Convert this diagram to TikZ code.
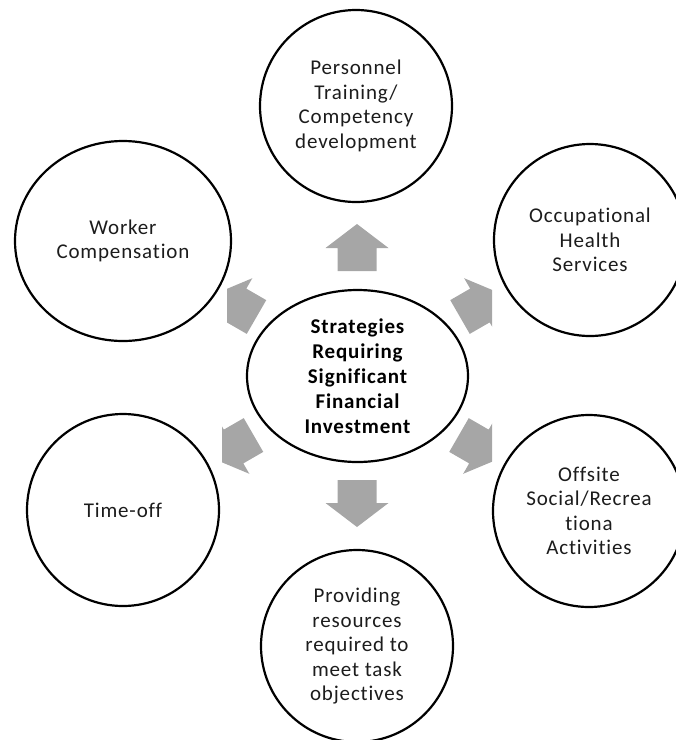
\documentclass[tikz,border=0pt]{standalone}
\usepackage{fontspec}
\setmainfont{Carlito}[LetterSpace=4, Ligatures={NoCommon}]
\usetikzlibrary{shapes.geometric}
\definecolor{arrowgray}{RGB}{166,166,166}
\definecolor{labelgray}{RGB}{28,28,28}
\tikzset{
  bubble/.style={draw=black, line width=2.2pt, circle, minimum size=192pt, inner sep=0pt,
    align=center, text=labelgray, font=\fontsize{21}{24.5}\selectfont},
  hub/.style={draw=black, line width=2.2pt, ellipse, inner sep=0pt,
    minimum width=221pt, minimum height=172pt, align=center, text=black,
    font=\bfseries\fontsize{21}{25}\selectfont},
  blockarrow/.pic={
    \fill[arrowgray] (0,-19.5) -- (23,-19.5) -- (23,-31.5) -- (47,0)
      -- (23,31.5) -- (23,19.5) -- (0,19.5) -- cycle;
  }
}
\begin{document}
\begin{tikzpicture}[x=1pt, y=-1pt]
  \useasboundingbox (0,0) rectangle (676,740);
  \clip (0,0) rectangle (676,740);

  % outer strategy bubbles
  \node[bubble] (training) at (356,106) {Personnel\\Training/\\Competency\\development};
  \node[bubble] (health) at (590,240) {Occupational\\Health\\Services};
  \node[bubble] (offsite) at (589,511) {Offsite\\Social/Recrea\\tiona\\Activities};
  \node[bubble] (resources) at (357,646) {Providing\\resources\\required to\\meet task\\objectives};
  \node[bubble] (timeoff) at (123,510) {Time-off};
  \node[bubble, ellipse, minimum width=216pt, minimum height=200pt] (worker) at (123,241)
    {Worker\\Compensation};

  % central hub
  \node[hub] (core) at (357.5,376) {Strategies\\Requiring\\Significant\\Financial\\Investment};

  % block arrows from the hub towards each bubble
  \pic[rotate=90] at (357,271) {blockarrow};
  \pic[rotate=270] at (357,480) {blockarrow};
  \begin{scope}
    \clip (227,0) rectangle (676,740);
    \pic[rotate=150] at (256.5,317) {blockarrow};
  \end{scope}
  \begin{scope}
    \clip (222,0) rectangle (676,740);
    \pic[rotate=210] at (253.5,435) {blockarrow};
  \end{scope}
  \begin{scope}
    \clip (0,0) rectangle (492,740);
    \pic[rotate=30] at (460,317) {blockarrow};
    \pic[rotate=330] at (459,435) {blockarrow};
  \end{scope}
\end{tikzpicture}
\end{document}
